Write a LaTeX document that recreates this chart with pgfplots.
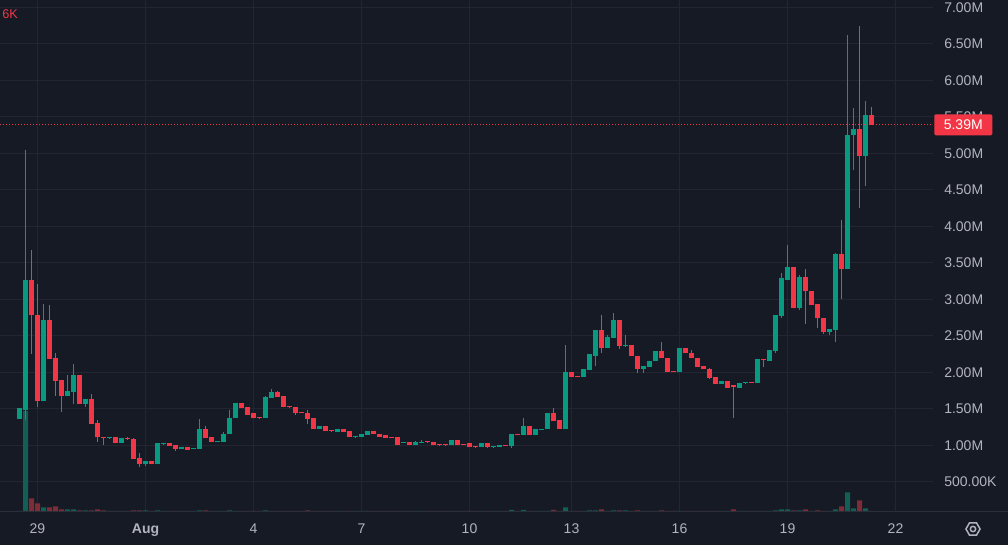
\documentclass[border=0pt]{standalone}
\usepackage{pgfplots}
\pgfplotsset{compat=1.18}
\usepackage{pgfplotstable}
\usepackage{fontspec}
\setmainfont{Liberation Sans}
\definecolor{bg}{HTML}{161A25}
\definecolor{gridc}{HTML}{232632}
\definecolor{linec}{HTML}{2A2E39}
\definecolor{txt}{HTML}{B2B5BE}
\definecolor{upc}{HTML}{089981}
\definecolor{dnc}{HTML}{F23645}
\definecolor{volup}{HTML}{145F55}
\definecolor{voldn}{HTML}{7E2C36}

\pgfplotstableread{
k o h l c v
0 1.36 1.51 1.36 1.51 1
1 1.49 5.05 1.34 3.26 101
4 1.60 2.93 1.60 2.71 4.7
8 1.68 1.96 1.68 1.74 2.7
9 1.73 2.11 1.56 1.96 2.7
11 1.56 1.64 1.53 1.64 1.7
15 1.10 1.12 1.09 1.12 1
17 1.03 1.10 1.03 1.10 1
21 0.75 0.78 0.71 0.78 1.7
23 0.74 1.03 0.74 1.03 1.7
24 1.02 1.03 1.00 1.03 1
27 0.95 0.97 0.95 0.97 1
29 0.95 0.96 0.95 0.96 1
30 0.95 1.36 0.95 1.22 1.7
33 1.05 1.06 1.05 1.06 1
34 1.05 1.18 1.05 1.16 1
35 1.15 1.49 1.15 1.38 1.7
36 1.37 1.58 1.37 1.58 1
41 1.37 1.67 1.37 1.66 1.7
42 1.65 1.77 1.65 1.73 1
50 1.22 1.26 1.22 1.26 1
53 1.18 1.22 1.18 1.22 1
56 1.11 1.13 1.11 1.12 1
57 1.11 1.15 1.11 1.15 1
58 1.14 1.19 1.14 1.19 1
64 1.03 1.05 1.03 1.04 1
66 1.00 1.06 1.00 1.04 1
67 1.03 1.07 1.03 1.05 1
72 1.00 1.07 1.00 1.07 1
77 0.97 1.03 0.97 1.03 1
79 0.97 0.98 0.97 0.98 1
80 0.97 1.00 0.97 1.00 1
82 0.99 1.16 0.96 1.16 2
84 1.14 1.38 1.14 1.27 2
86 1.14 1.22 1.14 1.22 1
87 1.21 1.23 1.21 1.23 1
88 1.22 1.44 1.22 1.44 1
91 1.23 2.37 1.23 2.01 4.7
94 1.93 2.04 1.93 2.04 1
95 2.03 2.25 2.03 2.25 1.7
96 2.23 2.58 2.08 2.58 1.7
98 2.33 2.51 2.33 2.48 1
99 2.47 2.81 2.47 2.71 1.7
101 2.36 2.51 2.34 2.37 1.7
104 2.05 2.08 1.99 2.08 1
105 2.07 2.16 2.07 2.16 1
106 2.15 2.29 2.15 2.29 1
110 2.00 2.33 2.00 2.33 1
117 1.84 1.88 1.84 1.88 1
120 1.78 1.86 1.78 1.86 1
121 1.85 1.87 1.85 1.86 1
123 1.86 2.18 1.86 2.18 1
125 2.16 2.30 2.16 2.30 1
126 2.29 2.78 2.27 2.78 1.7
127 2.77 3.36 2.75 3.29 2.7
128 3.27 3.74 3.27 3.44 2.7
130 2.88 3.33 2.86 3.30 1.7
135 2.55 2.59 2.51 2.59 1
136 2.58 3.63 2.42 3.62 2.7
138 3.41 6.62 3.41 5.25 19.7
139 5.25 5.62 4.77 5.33 3.7
141 4.96 5.71 4.55 5.53 3.7
}\up

\pgfplotstableread{
k o h l c v
2 3.26 3.67 2.25 2.78 13.7
3 2.79 3.21 1.53 1.60 8.7
5 2.71 2.92 2.18 2.18 4.7
6 2.19 2.26 1.67 1.88 5.7
7 1.89 1.89 1.45 1.68 2.7
10 1.96 1.96 1.56 1.56 1.7
12 1.64 1.70 1.29 1.29 1.7
13 1.30 1.34 1.05 1.11 2.7
14 1.12 1.12 1.00 1.10 1.7
16 1.12 1.12 1.03 1.03 1
18 1.10 1.11 1.07 1.09 1
19 1.08 1.10 0.81 0.81 1.7
20 0.82 0.90 0.70 0.75 1.7
22 0.78 0.78 0.74 0.74 1
25 1.03 1.03 0.99 0.99 1
26 1.00 1.00 0.92 0.95 1
28 0.97 0.97 0.94 0.94 1
31 1.22 1.26 1.10 1.10 1.7
32 1.11 1.11 1.05 1.05 1
37 1.58 1.58 1.51 1.51 1
38 1.52 1.52 1.42 1.42 1
39 1.44 1.44 1.37 1.37 1
40 1.38 1.38 1.37 1.37 1
43 1.73 1.75 1.66 1.66 1
44 1.67 1.67 1.52 1.52 1
45 1.53 1.53 1.52 1.52 1
46 1.52 1.52 1.42 1.44 1
47 1.45 1.45 1.44 1.44 1
48 1.44 1.48 1.29 1.36 1.7
49 1.37 1.37 1.22 1.22 1
51 1.26 1.26 1.19 1.19 1
52 1.20 1.20 1.19 1.19 1
54 1.22 1.22 1.18 1.18 1
55 1.19 1.19 1.11 1.11 1
59 1.19 1.19 1.15 1.15 1
60 1.16 1.16 1.12 1.12 1
61 1.14 1.14 1.10 1.10 1
62 1.11 1.12 1.10 1.10 1
63 1.11 1.11 1.01 1.01 1
65 1.04 1.04 1.00 1.00 1
68 1.05 1.05 1.04 1.04 1
69 1.05 1.05 1.00 1.00 1
70 1.01 1.01 1.00 1.00 1
71 1.01 1.01 1.00 1.00 1
73 1.07 1.07 1.01 1.01 1
74 1.02 1.02 1.01 1.01 1
75 1.03 1.03 0.97 0.97 1
76 0.98 0.98 0.97 0.97 1
78 1.03 1.03 0.96 0.97 1
81 1.00 1.00 0.99 0.99 1
83 1.16 1.16 1.14 1.14 1
85 1.27 1.27 1.14 1.14 1
89 1.44 1.51 1.33 1.33 2
90 1.34 1.34 1.23 1.23 1
92 2.01 2.01 1.93 1.93 1
93 1.94 1.95 1.93 1.93 1
97 2.58 2.79 2.27 2.33 2.7
100 2.71 2.71 2.32 2.36 1.7
102 2.37 2.37 2.22 2.22 1
103 2.23 2.23 1.99 2.05 1.7
107 2.29 2.42 2.19 2.19 1.7
108 2.20 2.20 2.00 2.00 1
109 2.01 2.02 2.00 2.00 1
111 2.33 2.33 2.26 2.26 1
112 2.27 2.30 2.19 2.19 1
113 2.20 2.20 2.07 2.07 1
114 2.08 2.08 2.04 2.04 1
115 2.05 2.06 1.91 1.92 1
116 1.93 1.93 1.84 1.84 1
118 1.88 1.88 1.79 1.79 1
119 1.82 1.82 1.37 1.80 2.7
122 1.86 1.87 1.85 1.85 1
124 2.18 2.18 2.07 2.17 1
129 3.44 3.44 2.88 2.88 1.7
131 3.30 3.42 2.66 3.11 2.7
132 3.12 3.12 2.92 2.92 1
133 2.93 2.93 2.60 2.74 1.7
134 2.75 2.75 2.53 2.55 1
137 3.62 4.08 3.01 3.41 5.7
140 5.33 6.74 4.25 4.96 11.7
142 5.53 5.64 5.39 5.39 1
}\down

\pgfplotsset{
  base/.style={at={(0pt,24.75pt)}, anchor=south west, scale only axis,
    width=699.75pt, height=384pt, xmin=-3.25, xmax=152.25},
  price/.style={base, ymin=0.0863, ymax=7.1},
}

\begin{document}
\begin{tikzpicture}
\fill[bg] (0,0) rectangle (756pt,408.75pt);
% frame axis: grid and labels
\begin{axis}[price,
  axis line style={draw=none}, tick style={draw=none},
  grid=major, major grid style={draw=gridc, line width=0.75pt},
  xtick={3,21,39,57,75,92,110,128,146},
  xticklabels={29,\textbf{Aug},4,7,10,13,16,19,22},
  xticklabel style={anchor=base, yshift=-16.5pt, text=txt, font=\fontsize{10.5pt}{12pt}\selectfont},
  ytick={0.5,1,1.5,2,2.5,3,3.5,4,4.5,5,5.5,6,6.5,7},
  yticklabels={500.00K,1.00M,1.50M,2.00M,2.50M,3.00M,3.50M,4.00M,4.50M,5.00M,5.50M,6.00M,6.50M,7.00M},
  yticklabel pos=right,
  yticklabel style={anchor=west, inner sep=0pt, xshift=8.25pt, text=txt, font=\fontsize{10.5pt}{12pt}\selectfont},
]
\addplot[draw=none, forget plot] coordinates {(0,1)};
\end{axis}
% volume axis
\begin{axis}[base, ymin=0, ymax=512, hide axis]
\addplot[ybar, bar width=3.75pt, bar shift=0pt, fill=volup, draw=none] table[x=k, y=v] {\up};
\addplot[ybar, bar width=3.75pt, bar shift=0pt, fill=voldn, draw=none] table[x=k, y=v] {\down};
\end{axis}
% candles
\begin{axis}[price, hide axis]
\addplot[draw=none, mark=none, forget plot, error bars/.cd, y dir=both, y explicit, error mark=none,
  error bar style={draw=upc, line width=0.75pt}]
  table[x=k, y=c, y error plus expr={\thisrow{h}-\thisrow{c}}, y error minus expr={\thisrow{c}-\thisrow{l}}] {\up};
\addplot[draw=none, mark=none, forget plot, error bars/.cd, y dir=both, y explicit, error mark=none,
  error bar style={draw=dnc, line width=0.75pt}]
  table[x=k, y=c, y error plus expr={\thisrow{h}-\thisrow{c}}, y error minus expr={\thisrow{c}-\thisrow{l}}] {\down};
\addplot[draw=none, mark=none, forget plot, error bars/.cd, y dir=plus, y explicit, error mark=none,
  error bar style={draw=upc, line width=3.75pt}]
  table[x=k, y=o, y error plus expr={max(\thisrow{c}-\thisrow{o},0.014)}] {\up};
\addplot[draw=none, mark=none, forget plot, error bars/.cd, y dir=plus, y explicit, error mark=none,
  error bar style={draw=dnc, line width=3.75pt}]
  table[x=k, y=c, y error plus expr={max(\thisrow{o}-\thisrow{c},0.014)}] {\down};
\addplot[dnc, line width=0.75pt, dash pattern=on 0.75pt off 1.5pt, forget plot] coordinates {(-3.25,5.39) (152.25,5.39)};
\coordinate (tag) at (axis cs:152.25,5.39);
\end{axis}
\node[anchor=west, fill=dnc, text=white, inner sep=0pt, minimum width=43.5pt, minimum height=15.75pt,
  rounded corners=1pt, font=\fontsize{10.5pt}{12pt}\selectfont] at ([xshift=0.75pt]tag) {5.39M};
\draw[linec, line width=0.75pt] (0,24.75pt) -- (756pt,24.75pt);
\node[anchor=west, inner sep=0pt, text=dnc, font=\fontsize{9.5pt}{11pt}\selectfont] at (1.5pt,398pt) {6K};
\draw[txt, line width=1.1pt] (729.75pt,12pt) +(0:5.3pt) -- +(60:5.3pt) -- +(120:5.3pt) -- +(180:5.3pt) -- +(240:5.3pt) -- +(300:5.3pt) -- cycle;
\draw[txt, line width=1.1pt] (729.75pt,12pt) circle (2pt);
\pgfresetboundingbox
\useasboundingbox (0,0) rectangle (756pt,408.75pt);
\end{tikzpicture}
\end{document}
